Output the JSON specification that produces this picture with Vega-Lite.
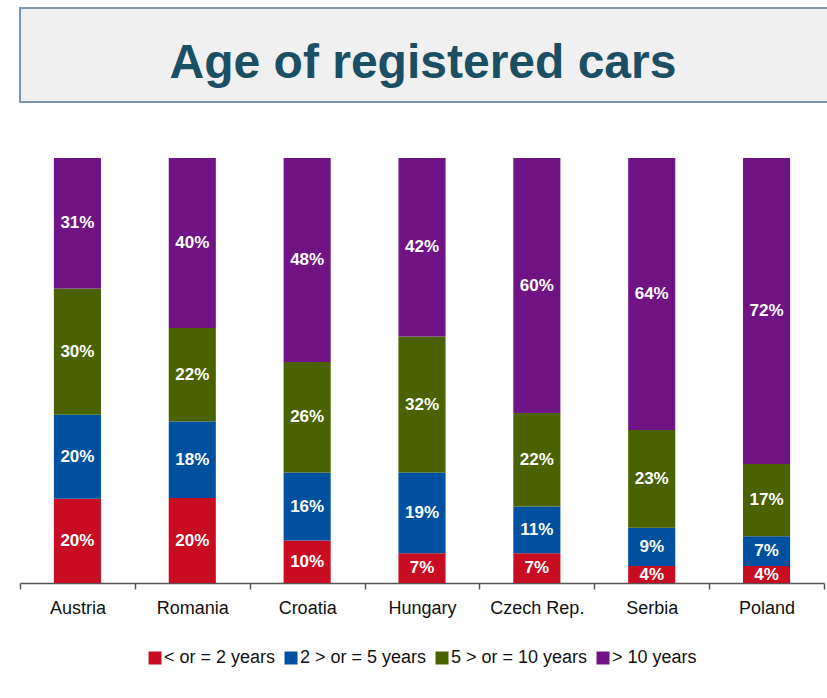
{
  "$schema": "https://vega.github.io/schema/vega-lite/v6.json",
  "background": "white",
  "padding": {"left": 10, "top": 7, "right": 0, "bottom": 0},
  "spacing": 55,
  "config": {
    "view": {"stroke": null},
    "font": "Liberation Sans"
  },
  "vconcat": [
    {
      "width": 820,
      "height": 94,
      "view": {"fill": "#f0f0f0", "stroke": "#7b97ab", "strokeWidth": 2},
      "data": {"values": [{"t": "Age of registered cars"}]},
      "mark": {"type": "text", "fontSize": 48, "fontWeight": "bold", "color": "#1b4f63", "font": "Liberation Sans", "baseline": "alphabetic", "dy": 23, "dx": -7},
      "encoding": {"text": {"field": "t", "type": "nominal"}}
    },
    {
      "width": 804,
      "height": 425,
      "data": {
        "values": [
          {"country": "Austria", "cat": "< or = 2 years", "order": 1, "value": 20},
          {"country": "Austria", "cat": "2 > or = 5 years", "order": 2, "value": 20},
          {"country": "Austria", "cat": "5 > or = 10 years", "order": 3, "value": 30},
          {"country": "Austria", "cat": "> 10 years", "order": 4, "value": 31},
          {"country": "Romania", "cat": "< or = 2 years", "order": 1, "value": 20},
          {"country": "Romania", "cat": "2 > or = 5 years", "order": 2, "value": 18},
          {"country": "Romania", "cat": "5 > or = 10 years", "order": 3, "value": 22},
          {"country": "Romania", "cat": "> 10 years", "order": 4, "value": 40},
          {"country": "Croatia", "cat": "< or = 2 years", "order": 1, "value": 10},
          {"country": "Croatia", "cat": "2 > or = 5 years", "order": 2, "value": 16},
          {"country": "Croatia", "cat": "5 > or = 10 years", "order": 3, "value": 26},
          {"country": "Croatia", "cat": "> 10 years", "order": 4, "value": 48},
          {"country": "Hungary", "cat": "< or = 2 years", "order": 1, "value": 7},
          {"country": "Hungary", "cat": "2 > or = 5 years", "order": 2, "value": 19},
          {"country": "Hungary", "cat": "5 > or = 10 years", "order": 3, "value": 32},
          {"country": "Hungary", "cat": "> 10 years", "order": 4, "value": 42},
          {"country": "Czech Rep.", "cat": "< or = 2 years", "order": 1, "value": 7},
          {"country": "Czech Rep.", "cat": "2 > or = 5 years", "order": 2, "value": 11},
          {"country": "Czech Rep.", "cat": "5 > or = 10 years", "order": 3, "value": 22},
          {"country": "Czech Rep.", "cat": "> 10 years", "order": 4, "value": 60},
          {"country": "Serbia", "cat": "< or = 2 years", "order": 1, "value": 4},
          {"country": "Serbia", "cat": "2 > or = 5 years", "order": 2, "value": 9},
          {"country": "Serbia", "cat": "5 > or = 10 years", "order": 3, "value": 23},
          {"country": "Serbia", "cat": "> 10 years", "order": 4, "value": 64},
          {"country": "Poland", "cat": "< or = 2 years", "order": 1, "value": 4},
          {"country": "Poland", "cat": "2 > or = 5 years", "order": 2, "value": 7},
          {"country": "Poland", "cat": "5 > or = 10 years", "order": 3, "value": 17},
          {"country": "Poland", "cat": "> 10 years", "order": 4, "value": 72}
        ]
      },
      "transform": [
        {"stack": "value", "groupby": ["country"], "sort": [{"field": "order", "order": "ascending"}], "offset": "normalize", "as": ["y0", "y1"]},
        {"calculate": "(datum.y0 + datum.y1) / 2", "as": "ymid"},
        {"calculate": "datum.value + '%'", "as": "label"}
      ],
      "encoding": {
        "x": {
          "field": "country",
          "type": "nominal",
          "sort": ["Austria", "Romania", "Croatia", "Hungary", "Czech Rep.", "Serbia", "Poland"],
          "scale": {"paddingInner": 0, "paddingOuter": 0},
          "axis": {
            "title": null,
            "labelAngle": 0,
            "labelFontSize": 18,
            "labelColor": "#111111",
            "labelFont": "Liberation Sans",
            "labelPadding": 10,
            "tickBand": "extent",
            "tickSize": 6,
            "tickColor": "#555555",
            "domainColor": "#555555",
            "domainWidth": 1.5,
            "tickWidth": 1.5
          }
        }
      },
      "layer": [
        {
          "mark": {"type": "bar", "width": {"band": 0.41}},
          "encoding": {
            "y": {
              "field": "y0",
              "type": "quantitative",
              "scale": {"domain": [0, 1]},
              "axis": {"title": null, "labels": false, "ticks": false, "domain": false, "grid": false, "minExtent": 10, "maxExtent": 10}
            },
            "y2": {"field": "y1"},
            "color": {
              "field": "cat",
              "type": "nominal",
              "scale": {
                "domain": ["< or = 2 years", "2 > or = 5 years", "5 > or = 10 years", "> 10 years"],
                "range": ["#c80c22", "#0050a0", "#4a6200", "#6f1385"]
              },
              "legend": {
                "title": null,
                "orient": "none",
                "legendX": 126,
                "legendY": 641,
                "direction": "horizontal",
                "symbolType": "square",
                "symbolSize": 169,
                "symbolStrokeWidth": 0,
                "symbolOpacity": 1,
                "labelFontSize": 18,
                "labelFont": "Liberation Sans",
                "labelColor": "#111111",
                "labelOffset": 0,
                "columnPadding": 6
              }
            }
          }
        },
        {
          "mark": {"type": "text", "color": "white", "fontWeight": "bold", "fontSize": 17, "font": "Liberation Sans"},
          "encoding": {
            "y": {"field": "ymid", "type": "quantitative"},
            "text": {"field": "label", "type": "nominal"}
          }
        }
      ]
    }
  ]
}
